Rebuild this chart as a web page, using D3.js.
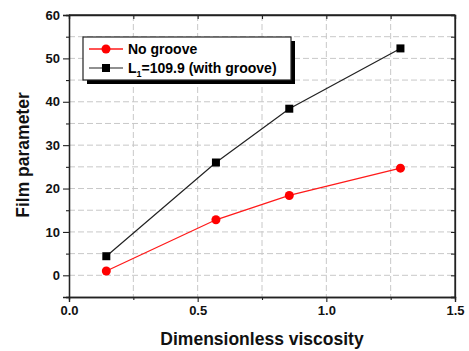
<!DOCTYPE html>
<html>
<head>
<meta charset="utf-8">
<script src="https://cdn.jsdelivr.net/npm/d3@7"></script>
<style>
  body { margin: 0; background: #fff; }
  text { font-family: "Liberation Sans", Arial, sans-serif; font-weight: bold; }
</style>
</head>
<body>
<script>
var viscosity = [0.145, 0.571, 0.856, 1.288];
var noGroove = [1.0, 12.8, 18.4, 24.7];
var withGroove = [4.4, 26.0, 38.4, 52.3];
var xTicks = [0.0, 0.5, 1.0, 1.5];
var yTicks = [0, 10, 20, 30, 40, 50, 60];

var margin = {top: 15, right: 14, bottom: 54, left: 69},
    width = 469 - margin.left - margin.right,
    height = 351 - margin.top - margin.bottom;

var svg = d3.select("body").append("svg")
    .attr("width", 469).attr("height", 351);
var g = svg.append("g")
    .attr("transform", "translate(" + margin.left + "," + margin.top + ")");

var x = d3.scaleLinear().domain([0, 1.5]).range([0, width]);
var y = d3.scaleLinear().domain([-5, 60]).range([height, 0]);

var xMinor = d3.range(0, 1.51, 0.25);
var yMinor = d3.range(-5, 60.1, 5);

// dashed grid
g.selectAll("line.gx").data(xMinor.slice(1, -1)).enter().append("line")
    .attr("class", "gx")
    .attr("x1", x).attr("x2", x).attr("y1", 0).attr("y2", height)
    .style("stroke", "#c8c8c8").style("stroke-dasharray", "6,3").style("stroke-width", 1);
g.selectAll("line.gy").data(yMinor.slice(1, -1)).enter().append("line")
    .attr("class", "gy")
    .attr("y1", y).attr("y2", y).attr("x1", 0).attr("x2", width)
    .style("stroke", "#c8c8c8").style("stroke-dasharray", "6,3").style("stroke-width", 1);

// axes
g.append("g").attr("transform", "translate(0," + height + ")")
    .call(d3.axisBottom(x).tickValues(xTicks).tickFormat(d3.format(".1f")).tickSize(5).tickPadding(4));
g.append("g").attr("transform", "translate(0," + height + ")")
    .call(d3.axisBottom(x).tickValues([0.25, 0.75, 1.25]).tickFormat("").tickSize(3));
g.append("g")
    .call(d3.axisLeft(y).tickValues(yTicks).tickSize(6).tickPadding(3));
g.append("g")
    .call(d3.axisLeft(y).tickValues(d3.range(-5, 60, 10)).tickFormat("").tickSize(3));
g.append("g").attr("transform", "translate(" + width + ",0)")
    .call(d3.axisLeft(y).tickValues(yMinor).tickFormat("").tickSize(4));
g.append("g")
    .call(d3.axisBottom(x).tickValues(xMinor).tickFormat("").tickSize(4));

g.selectAll(".domain").style("stroke", "#222").style("stroke-width", 1.3);
g.selectAll(".tick line").style("stroke", "#222").style("stroke-width", 1.1);
g.selectAll(".tick text").style("font-size", "13px").style("fill", "#111")
    .style("font-family", "'Liberation Sans', Arial, sans-serif").style("font-weight", "bold");

// frame top/right
g.append("line").attr("x1", 0).attr("x2", width).attr("y1", 0).attr("y2", 0)
    .style("stroke", "#222").style("stroke-width", 1.3);
g.append("line").attr("x1", width).attr("x2", width).attr("y1", 0).attr("y2", height)
    .style("stroke", "#222").style("stroke-width", 1.3);

// lines
var line = d3.line().x(function(d) { return x(d[0]); }).y(function(d) { return y(d[1]); });
var blackData = d3.zip(viscosity, withGroove);
var redData = d3.zip(viscosity, noGroove);

g.append("path").datum(blackData).attr("d", line)
    .style("fill", "none").style("stroke", "#222").style("stroke-width", 1.2);
g.append("path").datum(redData).attr("d", line)
    .style("fill", "none").style("stroke", "#ff1a1a").style("stroke-width", 1.3);

g.selectAll("rect.pt").data(blackData).enter().append("rect")
    .attr("class", "pt")
    .attr("x", function(d) { return x(d[0]) - 4; })
    .attr("y", function(d) { return y(d[1]) - 4; })
    .attr("width", 8).attr("height", 8).style("fill", "#000");
g.selectAll("circle.pt").data(redData).enter().append("circle")
    .attr("class", "pt")
    .attr("cx", function(d) { return x(d[0]); })
    .attr("cy", function(d) { return y(d[1]); })
    .attr("r", 4.5).style("fill", "#ff0000");

// legend
var lg = svg.append("g").attr("transform", "translate(83,37)");
lg.append("rect").attr("x", 4).attr("y", 4).attr("width", 208).attr("height", 43).style("fill", "#000");
lg.append("rect").attr("x", 0).attr("y", 0).attr("width", 208).attr("height", 43)
    .style("fill", "#fff").style("stroke", "#222").style("stroke-width", 1.2);

lg.append("line").attr("x1", 6).attr("x2", 40).attr("y1", 12).attr("y2", 12)
    .style("stroke", "#ff1a1a").style("stroke-width", 1.3);
lg.append("circle").attr("cx", 23).attr("cy", 12).attr("r", 4.5).style("fill", "#ff0000");
lg.append("text").attr("x", 45).attr("y", 17).style("font-size", "14px").text("No groove");

lg.append("line").attr("x1", 6).attr("x2", 40).attr("y1", 31).attr("y2", 31)
    .style("stroke", "#222").style("stroke-width", 1.2);
lg.append("rect").attr("x", 19).attr("y", 27).attr("width", 8).attr("height", 8).style("fill", "#000");
var t2 = lg.append("text").attr("x", 45).attr("y", 36).style("font-size", "14px");
t2.append("tspan").text("L");
t2.append("tspan").attr("dy", 4).style("font-size", "9px").text("1");
t2.append("tspan").attr("dy", -4).text("=109.9 (with groove)");

// axis titles
svg.append("text").attr("x", margin.left + width / 2).attr("y", 345)
    .attr("text-anchor", "middle").style("font-size", "17.5px").style("fill", "#111")
    .text("Dimensionless viscosity");
svg.append("text").attr("transform", "translate(29,155) rotate(-90)")
    .attr("text-anchor", "middle").style("font-size", "17.5px").style("fill", "#111")
    .text("Film parameter");
</script>
</body>
</html>
